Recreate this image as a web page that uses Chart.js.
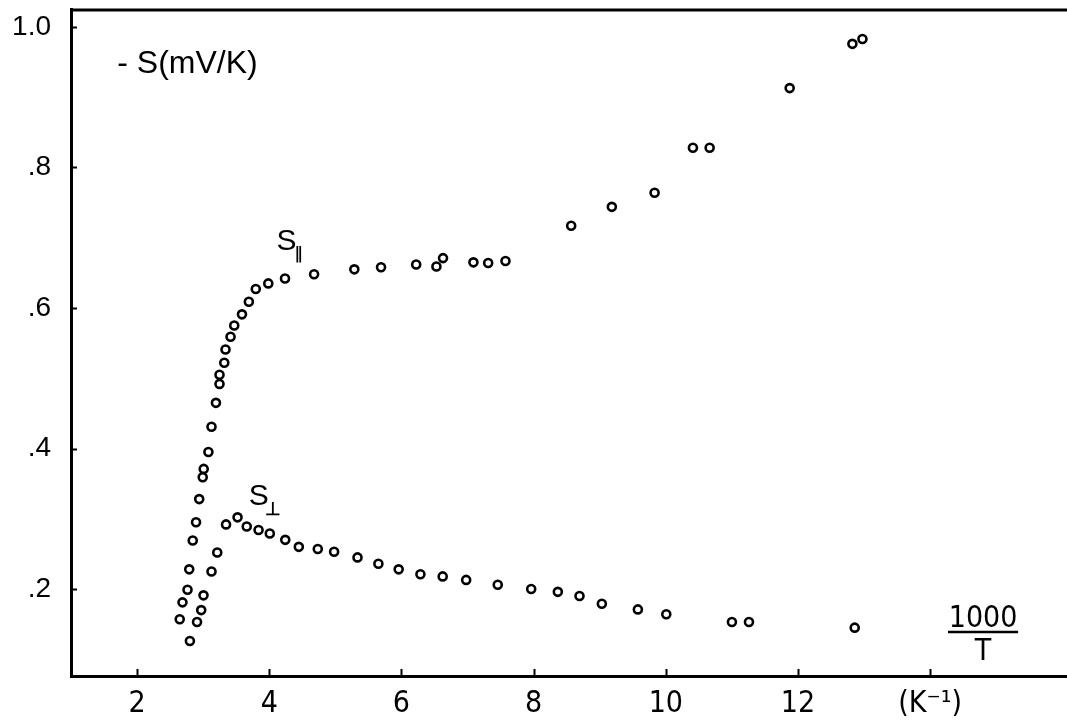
<!DOCTYPE html>
<html>
<head>
<meta charset="utf-8">
<script src="https://cdn.jsdelivr.net/npm/chart.js@4.4.1/dist/chart.umd.min.js"></script>
<style>
  html, body { margin: 0; padding: 0; background: #fff; }
  #wrap { width: 1067px; height: 720px; position: relative; }
</style>
</head>
<body>
<div id="wrap"><canvas id="c" width="1067" height="720"></canvas></div>
<script>
// ---- Data (x = 1000/T in K^-1, y = -S in mV/K) ----
const sParallelX = [2.645, 2.687, 2.763, 2.789, 2.842, 2.892, 2.940, 2.993, 3.008, 3.079,
  3.126, 3.193, 3.247, 3.247, 3.319, 3.338, 3.414, 3.470, 3.587, 3.691,
  3.796, 3.985, 4.238, 4.678, 5.287, 5.691, 6.223, 6.529, 6.629, 7.089,
  7.312, 7.574, 8.568, 9.183, 9.830, 10.410, 10.663, 11.874, 12.823, 12.975];
const sParallelY = [0.157, 0.181, 0.199, 0.228, 0.269, 0.295, 0.328, 0.359, 0.371, 0.395,
  0.431, 0.465, 0.492, 0.505, 0.522, 0.541, 0.559, 0.575, 0.591, 0.609,
  0.627, 0.635, 0.642, 0.648, 0.655, 0.658, 0.662, 0.659, 0.671, 0.665,
  0.664, 0.667, 0.717, 0.744, 0.764, 0.828, 0.828, 0.913, 0.976, 0.983];

const sPerpX = [2.799, 2.907, 2.970, 3.005, 3.126, 3.213, 3.346, 3.520, 3.659, 3.838,
  4.008, 4.242, 4.447, 4.734, 4.981, 5.335, 5.651, 5.958, 6.287, 6.624,
  6.979, 7.457, 7.963, 8.366, 8.694, 9.032, 9.577, 10.007, 11.000, 11.258, 12.858];
const sPerpY = [0.126, 0.153, 0.170, 0.191, 0.225, 0.252, 0.292, 0.302, 0.289, 0.284,
  0.279, 0.270, 0.260, 0.257, 0.253, 0.245, 0.236, 0.228, 0.221, 0.218,
  0.213, 0.206, 0.200, 0.196, 0.190, 0.179, 0.171, 0.164, 0.153, 0.153, 0.145];

const xTickValues = [2, 4, 6, 8, 10, 12, 14];
const xTickLabels = ['2', '4', '6', '8', '10', '12', '(K\u207B\u00B9)'];
const yTickValues = [0.2, 0.4, 0.6, 0.8, 1.0];
const yTickLabels = ['.2', '.4', '.6', '.8', '1.0'];

const toPoints = (xs, ys) => xs.map((x, i) => ({ x: x, y: ys[i] }));

const NARROW = '"Liberation Sans Narrow", "DejaVu Sans Condensed", "Liberation Sans", sans-serif';
const SANS = '"Liberation Sans", Arial, sans-serif';

// Frame: top border + inward tick marks + text annotations
const framePlugin = {
  id: 'frame',
  afterDatasetsDraw(chart) {
    const { ctx, chartArea: a, scales } = chart;
    ctx.save();
    ctx.strokeStyle = '#000';
    ctx.lineCap = 'butt';
    // top border
    ctx.lineWidth = 3;
    ctx.beginPath();
    ctx.moveTo(a.left - 1, a.top + 1);
    ctx.lineTo(a.right, a.top + 1);
    ctx.stroke();
    // inward ticks
    ctx.lineWidth = 2;
    yTickValues.forEach(v => {
      const p = Math.round(scales.y.getPixelForValue(v)) + 0.5;
      ctx.beginPath();
      ctx.moveTo(a.left, p);
      ctx.lineTo(a.left + 6, p);
      ctx.stroke();
    });
    xTickValues.forEach(v => {
      const p = Math.round(scales.x.getPixelForValue(v)) + 0.5;
      ctx.beginPath();
      ctx.moveTo(p, a.bottom);
      ctx.lineTo(p, a.bottom - 7);
      ctx.stroke();
    });
    // annotations (positions in data units)
    const X = v => scales.x.getPixelForValue(v);
    const Y = v => scales.y.getPixelForValue(v);
    ctx.fillStyle = '#000';
    ctx.textBaseline = 'alphabetic';
    ctx.textAlign = 'left';
    ctx.font = '32px ' + SANS;
    ctx.fillText('- S(mV/K)', X(1.70), Y(0.934));
    ctx.font = '30px ' + SANS;
    ctx.fillText('S', X(4.11), Y(0.683));
    ctx.fillText('S', X(3.69), Y(0.320));
    ctx.font = 'bold 17px ' + NARROW;
    ctx.fillText('\u2225', X(4.38), Y(0.670));
    ctx.font = 'bold 18px ' + SANS;
    ctx.fillText('\u22A5', X(3.93), Y(0.306));
    // 1000 / T
    ctx.textAlign = 'center';
    ctx.font = '30px ' + NARROW;
    ctx.fillText('1000', X(14.80), Y(0.146));
    ctx.fillText('T', X(14.80), Y(0.099));
    ctx.lineWidth = 2.5;
    ctx.beginPath();
    ctx.moveTo(X(14.27), Y(0.139));
    ctx.lineTo(X(15.33), Y(0.139));
    ctx.stroke();
    ctx.restore();
  }
};

const markerStyle = {
  showLine: false,
  pointStyle: 'circle',
  pointRadius: 4,
  pointHoverRadius: 4,
  pointBorderWidth: 2.6,
  borderColor: '#000',
  backgroundColor: 'rgba(0,0,0,0)'
};

const zeroPad = s => { s.paddingTop = 0; s.paddingBottom = 0; s.paddingLeft = 0; s.paddingRight = 0; };

new Chart(document.getElementById('c'), {
  type: 'scatter',
  data: {
    datasets: [
      Object.assign({ label: 'S\u2225', data: toPoints(sParallelX, sParallelY) }, markerStyle),
      Object.assign({ label: 'S\u22A5', data: toPoints(sPerpX, sPerpY) }, markerStyle)
    ]
  },
  options: {
    responsive: false,
    animation: false,
    events: [],
    layout: { autoPadding: false, padding: { top: 9, right: 0, left: 0, bottom: 0 } },
    plugins: { legend: { display: false }, tooltip: { enabled: false }, title: { display: false } },
    scales: {
      x: {
        type: 'linear',
        position: 'bottom',
        min: 1.0,
        max: 16.07,
        afterBuildTicks: s => { s.ticks = xTickValues.map(v => ({ value: v })); },
        afterFit: s => { s.height = 44; zeroPad(s); },
        grid: { display: false, drawTicks: false },
        border: { display: true, color: '#000', width: 3 },
        ticks: {
          color: '#000',
          padding: 10,
          maxRotation: 0,
          autoSkip: false,
          font: { family: NARROW, size: 30 },
          callback: v => { const i = xTickValues.indexOf(v); return i >= 0 ? xTickLabels[i] : ''; }
        }
      },
      y: {
        type: 'linear',
        position: 'left',
        min: 0.0762,
        max: 1.0256,
        afterBuildTicks: s => { s.ticks = yTickValues.map(v => ({ value: v })); },
        afterFit: s => { s.width = 71; zeroPad(s); },
        grid: { display: false, drawTicks: false },
        border: { display: true, color: '#000', width: 3 },
        ticks: {
          color: '#000',
          padding: 20,
          autoSkip: false,
          font: { family: SANS, size: 28 },
          callback: v => {
            const i = yTickValues.findIndex(t => Math.abs(t - v) < 1e-9);
            return i >= 0 ? yTickLabels[i] : '';
          }
        }
      }
    }
  },
  plugins: [framePlugin]
});
</script>
</body>
</html>
